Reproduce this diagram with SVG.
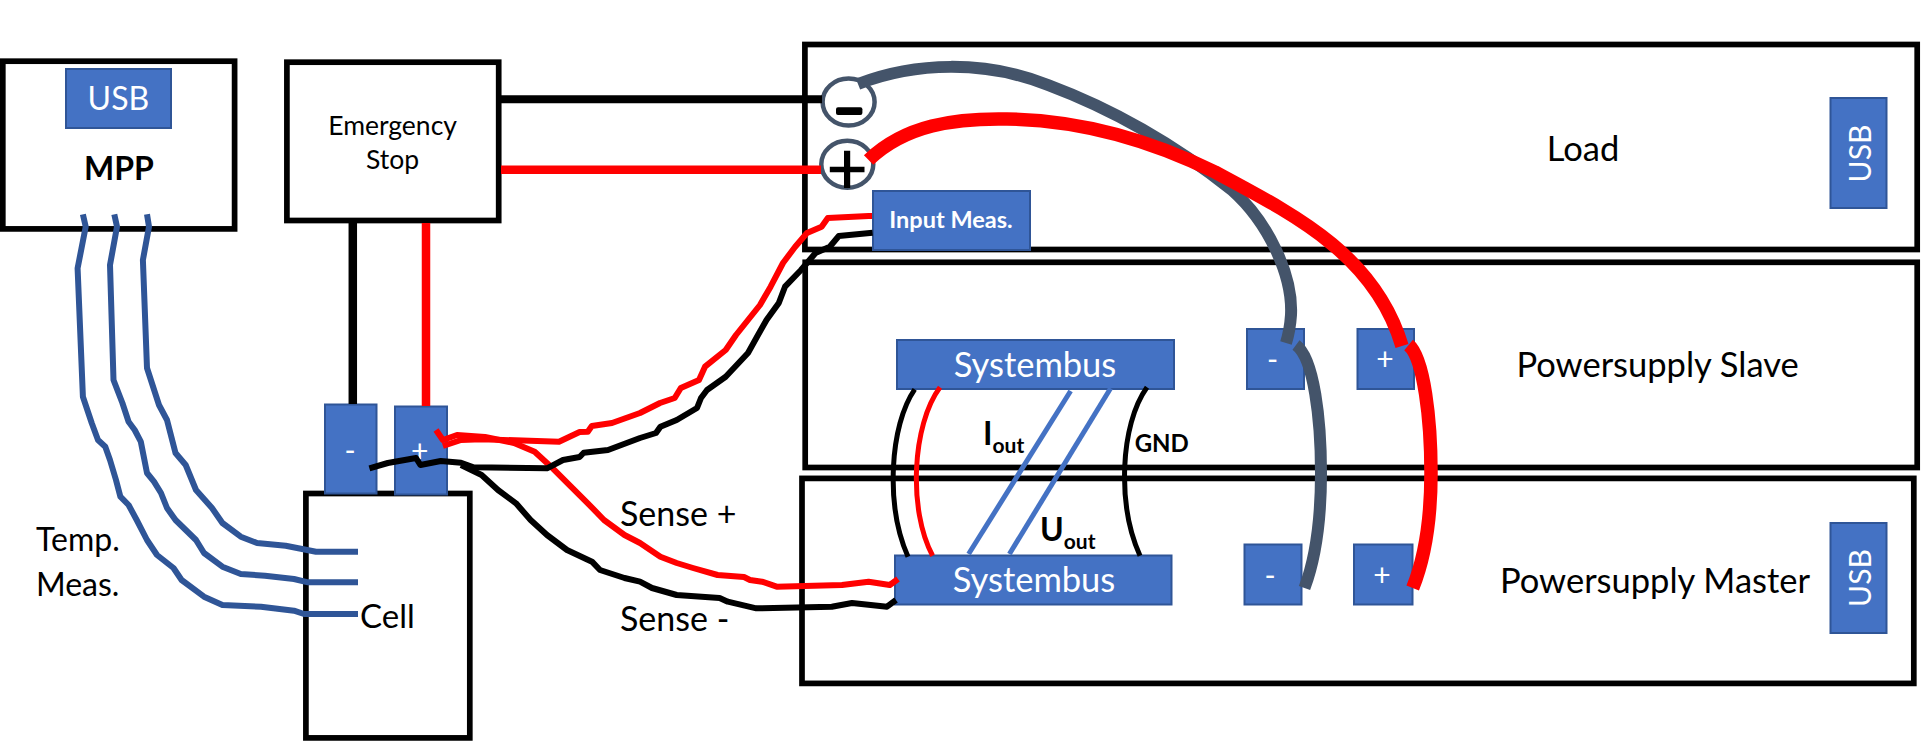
<svg xmlns="http://www.w3.org/2000/svg" width="1922" height="741" viewBox="0 0 1922 741">
<style>
text{font-family:Lato,"Liberation Sans",sans-serif;fill:#000}
.box{fill:#fff;stroke:#000;stroke-width:5.7}
.blk{fill:#4472C4;stroke:#2F5597;stroke-width:2}
.w{fill:#fff;text-anchor:middle}
.l32{font-size:32px}
.l34{font-size:34.5px}
.c{text-anchor:middle}
.wire{fill:none;stroke-linejoin:round}
.tw{stroke:#2F5597;stroke-width:6}
.rs{stroke:#f00;stroke-width:6}
.bs{stroke:#000;stroke-width:6}
.pw-d{stroke:#44546A;stroke-width:12}
.pw-r{stroke:#f00;stroke-width:13.5}
.thin{stroke-width:5}
</style>
<rect width="1922" height="741" fill="#fff"/>
<g id="load">
<rect class="box" x="804.9" y="44.5" width="1112.3" height="205"/>
<rect class="blk" x="1830.5" y="98" width="56" height="110"/>
<text class="w" font-size="30" transform="translate(1871,153.5) rotate(-90)">USB</text>
<text class="l34 c" x="1583" y="160.5">Load</text>
<ellipse cx="848.6" cy="102" rx="26" ry="23.5" fill="#fff" stroke="#44546A" stroke-width="4.5"/>
<rect x="836" y="107.3" width="26.4" height="7.7" rx="2"/>
<ellipse cx="847.3" cy="164.3" rx="26" ry="23.5" fill="#fff" stroke="#44546A" stroke-width="4.5"/>
<path d="M844 150.7h6.2v16h14.3v5.6h-14.3V188H844v-15.7h-14.2v-5.6H844z"/>
<rect class="blk" x="873" y="191" width="157" height="59"/>
<text class="w" x="951" y="228.3" font-size="23.5" font-weight="700">Input Meas.</text>
</g>
<g id="powersupply-slave">
<rect class="box" x="805.2" y="262.3" width="1112" height="205.2"/>
<rect class="blk" x="897" y="340" width="277" height="49"/>
<text class="w l34" x="1035" y="376.5">Systembus</text>
<rect class="blk" x="1247" y="329" width="57" height="60"/>
<text class="w" x="1272.6" y="370" font-size="30">-</text>
<rect class="blk" x="1357.5" y="329" width="56.5" height="60"/>
<text class="w" x="1385" y="370" font-size="30">+</text>
<text class="l34 c" x="1657.6" y="377">Powersupply Slave</text>
</g>
<g id="powersupply-master">
<rect class="box" x="802" y="478.4" width="1111.8" height="205"/>
<rect class="blk" x="895" y="555.5" width="276.5" height="49"/>
<text class="w l34" x="1034" y="591.5">Systembus</text>
<rect class="blk" x="1244.5" y="544.5" width="57" height="60"/>
<text class="w" x="1270" y="586" font-size="30">-</text>
<rect class="blk" x="1354" y="544.5" width="58.5" height="60"/>
<text class="w" x="1382" y="586" font-size="30">+</text>
<rect class="blk" x="1830.5" y="523" width="56" height="110"/>
<text class="w" font-size="30" transform="translate(1871,578) rotate(-90)">USB</text>
<text class="l34 c" x="1655" y="592.8">Powersupply Master</text>
</g>
<g id="mpp">
<rect class="box" x="2.8" y="61.2" width="231.8" height="167.7"/>
<rect class="blk" x="66" y="69" width="105" height="59"/>
<text class="w l32" x="118.4" y="110">USB</text>
<text class="l32 c" x="119" y="180" font-weight="700">MPP</text>
</g>
<g id="emergency-stop">
<rect class="box" x="286.9" y="62.2" width="211.8" height="158.3"/>
<text class="c" x="392.6" y="134.5" font-size="26.5">Emergency</text>
<text class="c" x="392.6" y="169" font-size="26.5">Stop</text>
</g>
<g id="cell">
<rect class="box" x="305.9" y="493.5" width="163.9" height="244.4"/>
<text class="c" font-size="33" x="387.4" y="628">Cell</text>
<rect class="blk" x="325" y="404.5" width="51.5" height="89"/>
<text class="w" x="350" y="461" font-size="30">-</text>
<rect class="blk" x="395" y="406.5" width="52" height="88"/>
<text class="w" x="419.6" y="462" font-size="30">+</text>
</g>
<g id="connectors" class="wire">
<path stroke="#000" stroke-width="8" d="M501 99.3H822"/>
<path stroke="#f00" stroke-width="8.5" d="M501 169.8H821"/>
<path stroke="#000" stroke-width="8.5" d="M352.8 223V404"/>
<path stroke="#f00" stroke-width="8.5" d="M426 223V406"/>
<polyline class="tw" fill="none" points="82.9,214.3 85.7,226.7 77.6,268.3 82.9,396.7 91.8,423.3 98,440 105.3,446.7 110,460 116,480 120.4,496.7 128.6,505 136.7,520 147,540 157,555 173.5,568 181.6,580 204,596.7 222.4,605 261,606.7 294,610.7 304,614 358,614"/>
<polyline class="tw" fill="none" points="114.3,214.3 117,226.7 110,265 113.5,380 122.4,403 128.6,421.7 134.7,430 140.8,441.7 147,473 154,481.7 161,493 167,508 175.5,520 196,540 204,553 222.4,566.7 240.8,574 265,575.7 294,579 308,582.3 358,582.3"/>
<polyline class="tw" fill="none" points="147,214.3 149,226.7 142.9,260 147,368 159,405 167,420 175.5,453 185.7,465 196,490 212,508 222.4,523 240.8,536.7 257,543 285.7,545.7 316,551.7 358,551.7"/>
<polyline class="rs" fill="none" points="872,216 868.6,216 827.8,218 821.6,226.7 807,233 795,247 783,263 770.6,286.7 760,305 748,320 736,335 725.7,350 705,366.7 699,380 680.8,388 674.7,398 660,403 640,413 612,423 591.8,426 587.8,431.7 579.6,432 559,441.7 481.6,439.3 461,440 442.9,446"/>
<polyline class="rs" fill="none" points="436,430 442.9,440 457,435 485,437 514,443 534.7,451.7 551,466.7 571,486.7 587.8,503.3 604,520 624.5,535 640,543 660.4,556.7 676.7,563 693,568 717.6,575 744,577 750,580 762,581.7 776.7,586.7 842,585 868.6,581.7 889.8,585 898,579"/>
<polyline class="bs" fill="none" points="872.6,232.7 838.8,236 829.8,246.7 815.5,253 801,270 785,286.7 778.8,303 766.5,320 758,335 748,353 725.7,376.7 707,390 701,398 697,408 676.7,420 660.4,426.7 656,433 640,438 608,450 583.7,452.7 579.6,457 563,460 547,468.3 473.5,467.3 461,462.7 440.8,461 420.4,465 416,458 387.8,463 369.4,468.3"/>
<polyline class="bs" fill="none" points="461,465 481.6,475 498,490 516,503.3 530.6,520 547,535 567,550 592,561.7 600,570 624.5,578 640,581.7 652,588 676.7,595 719.6,598 727.8,601.7 756.3,608.3 831.8,606.7 852,603 887,606.7 896,600"/>
<path class="pw-d" d="M858 84C915 62 985 60 1048 85C1115 110 1175 145 1232 190C1268 222 1293 275 1291 315Q1290 330 1286 343"/>
<path class="pw-r" d="M868.6 160C905 125 955 118 1007 119C1080 120 1150 140 1215 172C1295 215 1375 255 1402 346"/>
<path class="pw-d" d="M1296 345C1314 358 1321 420 1321 473C1321 520 1315 560 1304.5 588"/>
<path class="pw-r" d="M1408.6 345C1424 358 1431 420 1431 473C1431 520 1424 560 1412.7 588"/>
<path class="thin" stroke="#000" d="M914.7 389.3C890 425 885 505 908 556.7"/>
<path class="thin" stroke="#f00" d="M940 387.3C912 425 908 510 932.6 555.7"/>
<path class="thin" stroke="#4472C4" d="M1070.6 391L968.6 554"/>
<path class="thin" stroke="#4472C4" d="M1110.6 388.3L1009.4 554"/>
<path class="thin" stroke="#000" d="M1147 387.3C1120 425 1117 505 1140 555.7"/>
</g>
<g id="labels">
<text class="l32" x="36" y="551">Temp.</text>
<text class="l32" x="36" y="596">Meas.</text>
<text x="620" y="525.5" font-size="34">Sense +</text>
<text x="620" y="630.5" font-size="34">Sense -</text>
<text class="l32" x="983" y="445" font-weight="700">I<tspan font-size="21" dy="8">out</tspan></text>
<text class="l32" x="1040" y="541" font-weight="700">U<tspan font-size="21" dy="8">out</tspan></text>
<text x="1134.7" y="451.5" font-size="24" font-weight="700">GND</text>
</g>
</svg>
